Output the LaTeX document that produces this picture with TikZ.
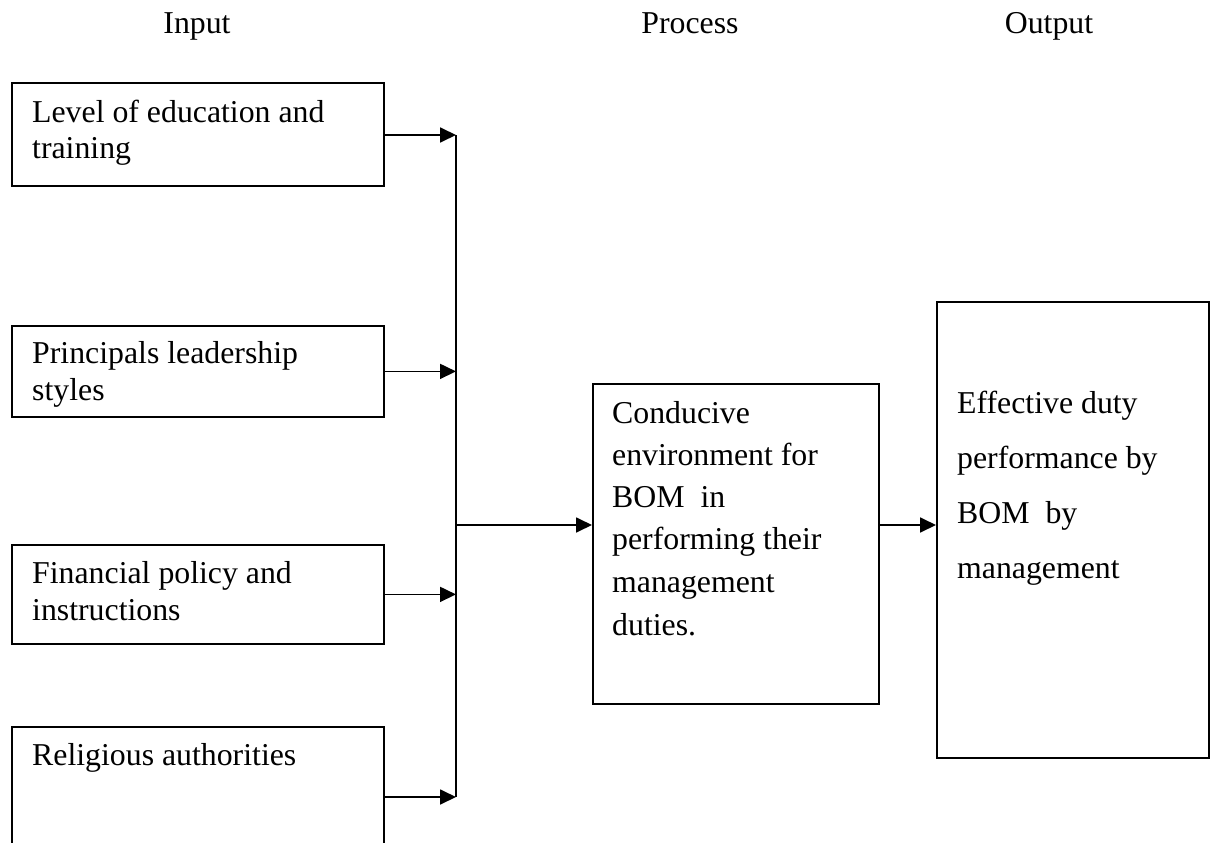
\documentclass[tikz,border=0pt]{standalone}
\usepackage{fontspec}
\setmainfont{Liberation Serif}
\usetikzlibrary{arrows.meta}
\tikzset{
  box/.style={draw, line width=1.8pt, rectangle, inner sep=0pt, anchor=north west},
  txt/.style={anchor=base west, inner sep=0pt, font=\fontsize{31.8}{36}\selectfont},
  head/.style={anchor=base, inner sep=0pt, font=\fontsize{31.8}{36}\selectfont},
  conn/.style={line width=1.8pt, -{Triangle[length=16pt,width=15pt]}},
  wire/.style={line width=1.8pt},
}
\begin{document}
\begin{tikzpicture}[x=1pt,y=-1pt]
\useasboundingbox (0,0) rectangle (1211,843);
\clip (0,0) rectangle (1211,843);
% headers
\node[head] (hin) at (197,34) {Input};
\node[head] (hpr) at (690,34) {Process};
\node[head] (hout) at (1049,34) {Output};
% input boxes
\node[box, minimum width=372pt, minimum height=103pt] (b1) at (11,82) {};
\node[box, minimum width=372pt, minimum height=91pt] (b2) at (11,325) {};
\node[box, minimum width=372pt, minimum height=99pt] (b3) at (11,544) {};
\node[box, minimum width=372pt, minimum height=142pt] (b4) at (11,726) {};
\node[txt] (t1a) at (32,122) {Level of education and};
\node[txt] (t1b) at (32,158) {training};
\node[txt] (t2a) at (32,363) {Principals leadership};
\node[txt] (t2b) at (32,400) {styles};
\node[txt] (t3a) at (32,583) {Financial policy and};
\node[txt] (t3b) at (32,620) {instructions};
\node[txt] (t4a) at (32,765) {Religious authorities};
% process box
\node[box, minimum width=286pt, minimum height=320pt] (c) at (592,383) {};
\node[txt] (c1) at (612,423) {Conducive};
\node[txt] (c2) at (612,465) {environment for};
\node[txt] (c3) at (612,507) {BOM\ \ in};
\node[txt] (c4) at (612,549) {performing their};
\node[txt] (c5) at (612,592) {management};
\node[txt] (c6) at (612,635) {duties.};
% output box
\node[box, minimum width=272pt, minimum height=456pt] (e) at (936,301) {};
\node[txt] (e1) at (957,413) {Effective duty};
\node[txt] (e2) at (957,468) {performance by};
\node[txt] (e3) at (957,523) {BOM\ \ by};
\node[txt] (e4) at (957,578) {management};
% bus
\coordinate (btop) at (456,135);
\coordinate (j) at (456,525);
\coordinate (bbot) at (456,797);
\draw[wire] (btop) -- (bbot);
\draw[conn] (b1.east |- btop) -- (btop);
\draw[conn] (b2.east) -- (b2.east -| j);
\draw[conn] (b3.east) -- (b3.east -| j);
\draw[conn] (b4.east |- bbot) -- (bbot);
\draw[conn] (j) -- (j -| c.west);
\draw[conn] (c.east |- j) -- (e.west |- j);
\end{tikzpicture}
\end{document}
